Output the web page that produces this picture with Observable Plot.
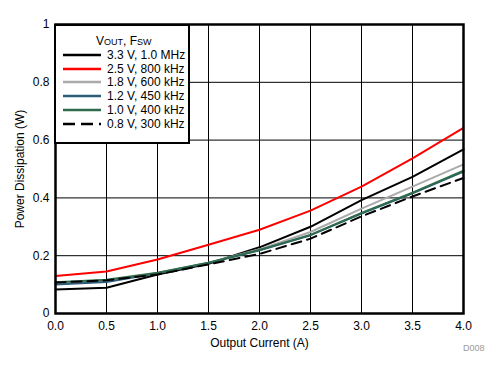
<!DOCTYPE html>
<html>
<head>
<meta charset="utf-8">
<script src="https://cdn.jsdelivr.net/npm/d3@7"></script>
<script src="https://cdn.jsdelivr.net/npm/@observablehq/plot@0.6"></script>
<style>
  html, body { margin: 0; padding: 0; background: #fff; }
  #wrap { position: relative; width: 501px; height: 375px; font-family: "Liberation Sans", Arial, sans-serif; }
  #legend { position: absolute; left: 54px; top: 24px; width: 132px; height: 116px; border: 2px solid #000; background: #fff; font-size: 12px; white-space: nowrap; }
  #legend .title { position: absolute; left: 40px; top: 8px; white-space: nowrap; }
  #legend .row { position: absolute; left: 7px; height: 14px; display: flex; align-items: center; white-space: nowrap; }
  #legend .row span { margin-left: 6px; white-space: nowrap; }
  #code { position: absolute; left: 463px; top: 343px; font-size: 9px; color: #9a9a9a; }
  sub.sc { font-size: 9px; vertical-align: baseline; }
</style>
</head>
<body>
<div id="wrap"></div>
<script>
// Output current (A)
const current = [0, 0.5, 1.0, 1.5, 2.0, 2.5, 3.0, 3.5, 4.0];
// Power dissipation (W) per series
const p33 = [0.083, 0.089, 0.135, 0.172, 0.229, 0.300, 0.392, 0.473, 0.568];
const p25 = [0.130, 0.145, 0.187, 0.238, 0.290, 0.356, 0.439, 0.537, 0.642];
const p18 = [0.104, 0.112, 0.140, 0.176, 0.222, 0.282, 0.363, 0.439, 0.516];
const p12 = [0.100, 0.109, 0.139, 0.175, 0.219, 0.271, 0.346, 0.416, 0.491];
const p10 = [0.108, 0.117, 0.141, 0.176, 0.220, 0.272, 0.348, 0.418, 0.494];
const p08 = [0.107, 0.115, 0.135, 0.170, 0.206, 0.259, 0.336, 0.405, 0.469];

const seriesNames = ["3.3 V, 1.0 MHz", "2.5 V, 800 kHz", "1.8 V, 600 kHz", "1.2 V, 450 kHz", "1.0 V, 400 kHz", "0.8 V, 300 kHz"];
const seriesValues = [p33, p25, p18, p12, p10, p08];
const seriesColors = ["#000000", "#ff0000", "#aaaaaa", "#2d5c78", "#2e6c4b", "#000000"];
const seriesDash = [null, null, null, null, null, "10,6"];

const xTicks = [0, 0.5, 1.0, 1.5, 2.0, 2.5, 3.0, 3.5, 4.0];
const yTicks = [0, 0.2, 0.4, 0.6, 0.8, 1];

const lineMarks = seriesNames.map((name, i) => {
  const data = current.map((c, j) => ({x: c, y: seriesValues[i][j]}));
  return Plot.line(data, {x: "x", y: "y", stroke: seriesColors[i], strokeWidth: 2, strokeDasharray: seriesDash[i] || undefined});
});

const chart = Plot.plot({
  width: 501,
  height: 375,
  marginLeft: 55,
  marginRight: 38,
  marginTop: 24,
  marginBottom: 62,
  style: {fontFamily: '"Liberation Sans", Arial, sans-serif', fontSize: "12px", color: "#000", background: "#fff"},
  x: {domain: [0, 4]},
  y: {domain: [0, 1]},
  marks: [
    Plot.ruleX(xTicks, {stroke: "#000", strokeWidth: 1, strokeOpacity: 1}),
    Plot.ruleY(yTicks, {stroke: "#000", strokeWidth: 1, strokeOpacity: 1}),
    ...lineMarks,
    Plot.frame({stroke: "#000", strokeWidth: 2.5}),
    Plot.axisX(xTicks, {tickSize: 0, tickPadding: 8, tickFormat: d3.format(".1f"), fontSize: 12, label: "Output Current (A)", labelAnchor: "center", labelOffset: 33, labelArrow: "none"}),
    Plot.axisY(yTicks, {tickSize: 0, tickPadding: 6, tickFormat: d => String(d), fontSize: 12, label: "Power Dissipation (W)", labelAnchor: "center", labelOffset: 40, labelArrow: "none"})
  ]
});

const wrap = document.getElementById("wrap");
wrap.appendChild(chart);

// legend
const legend = document.createElement("div");
legend.id = "legend";
let html = '<div class="title">V<sub class="sc">OUT</sub>, F<sub class="sc">SW</sub></div>';
seriesNames.forEach((name, i) => {
  const top = 22 + i * 13.7;
  const dash = seriesDash[i] ? `stroke-dasharray="12,6"` : "";
  html += `<div class="row" style="top:${top}px"><svg width="38" height="4"><line x1="0" y1="2" x2="38" y2="2" stroke="${seriesColors[i]}" stroke-width="2.5" ${dash}/></svg><span>${name}</span></div>`;
});
legend.innerHTML = html;
wrap.appendChild(legend);

const code = document.createElement("div");
code.id = "code";
code.textContent = "D008";
wrap.appendChild(code);
</script>
</body>
</html>
